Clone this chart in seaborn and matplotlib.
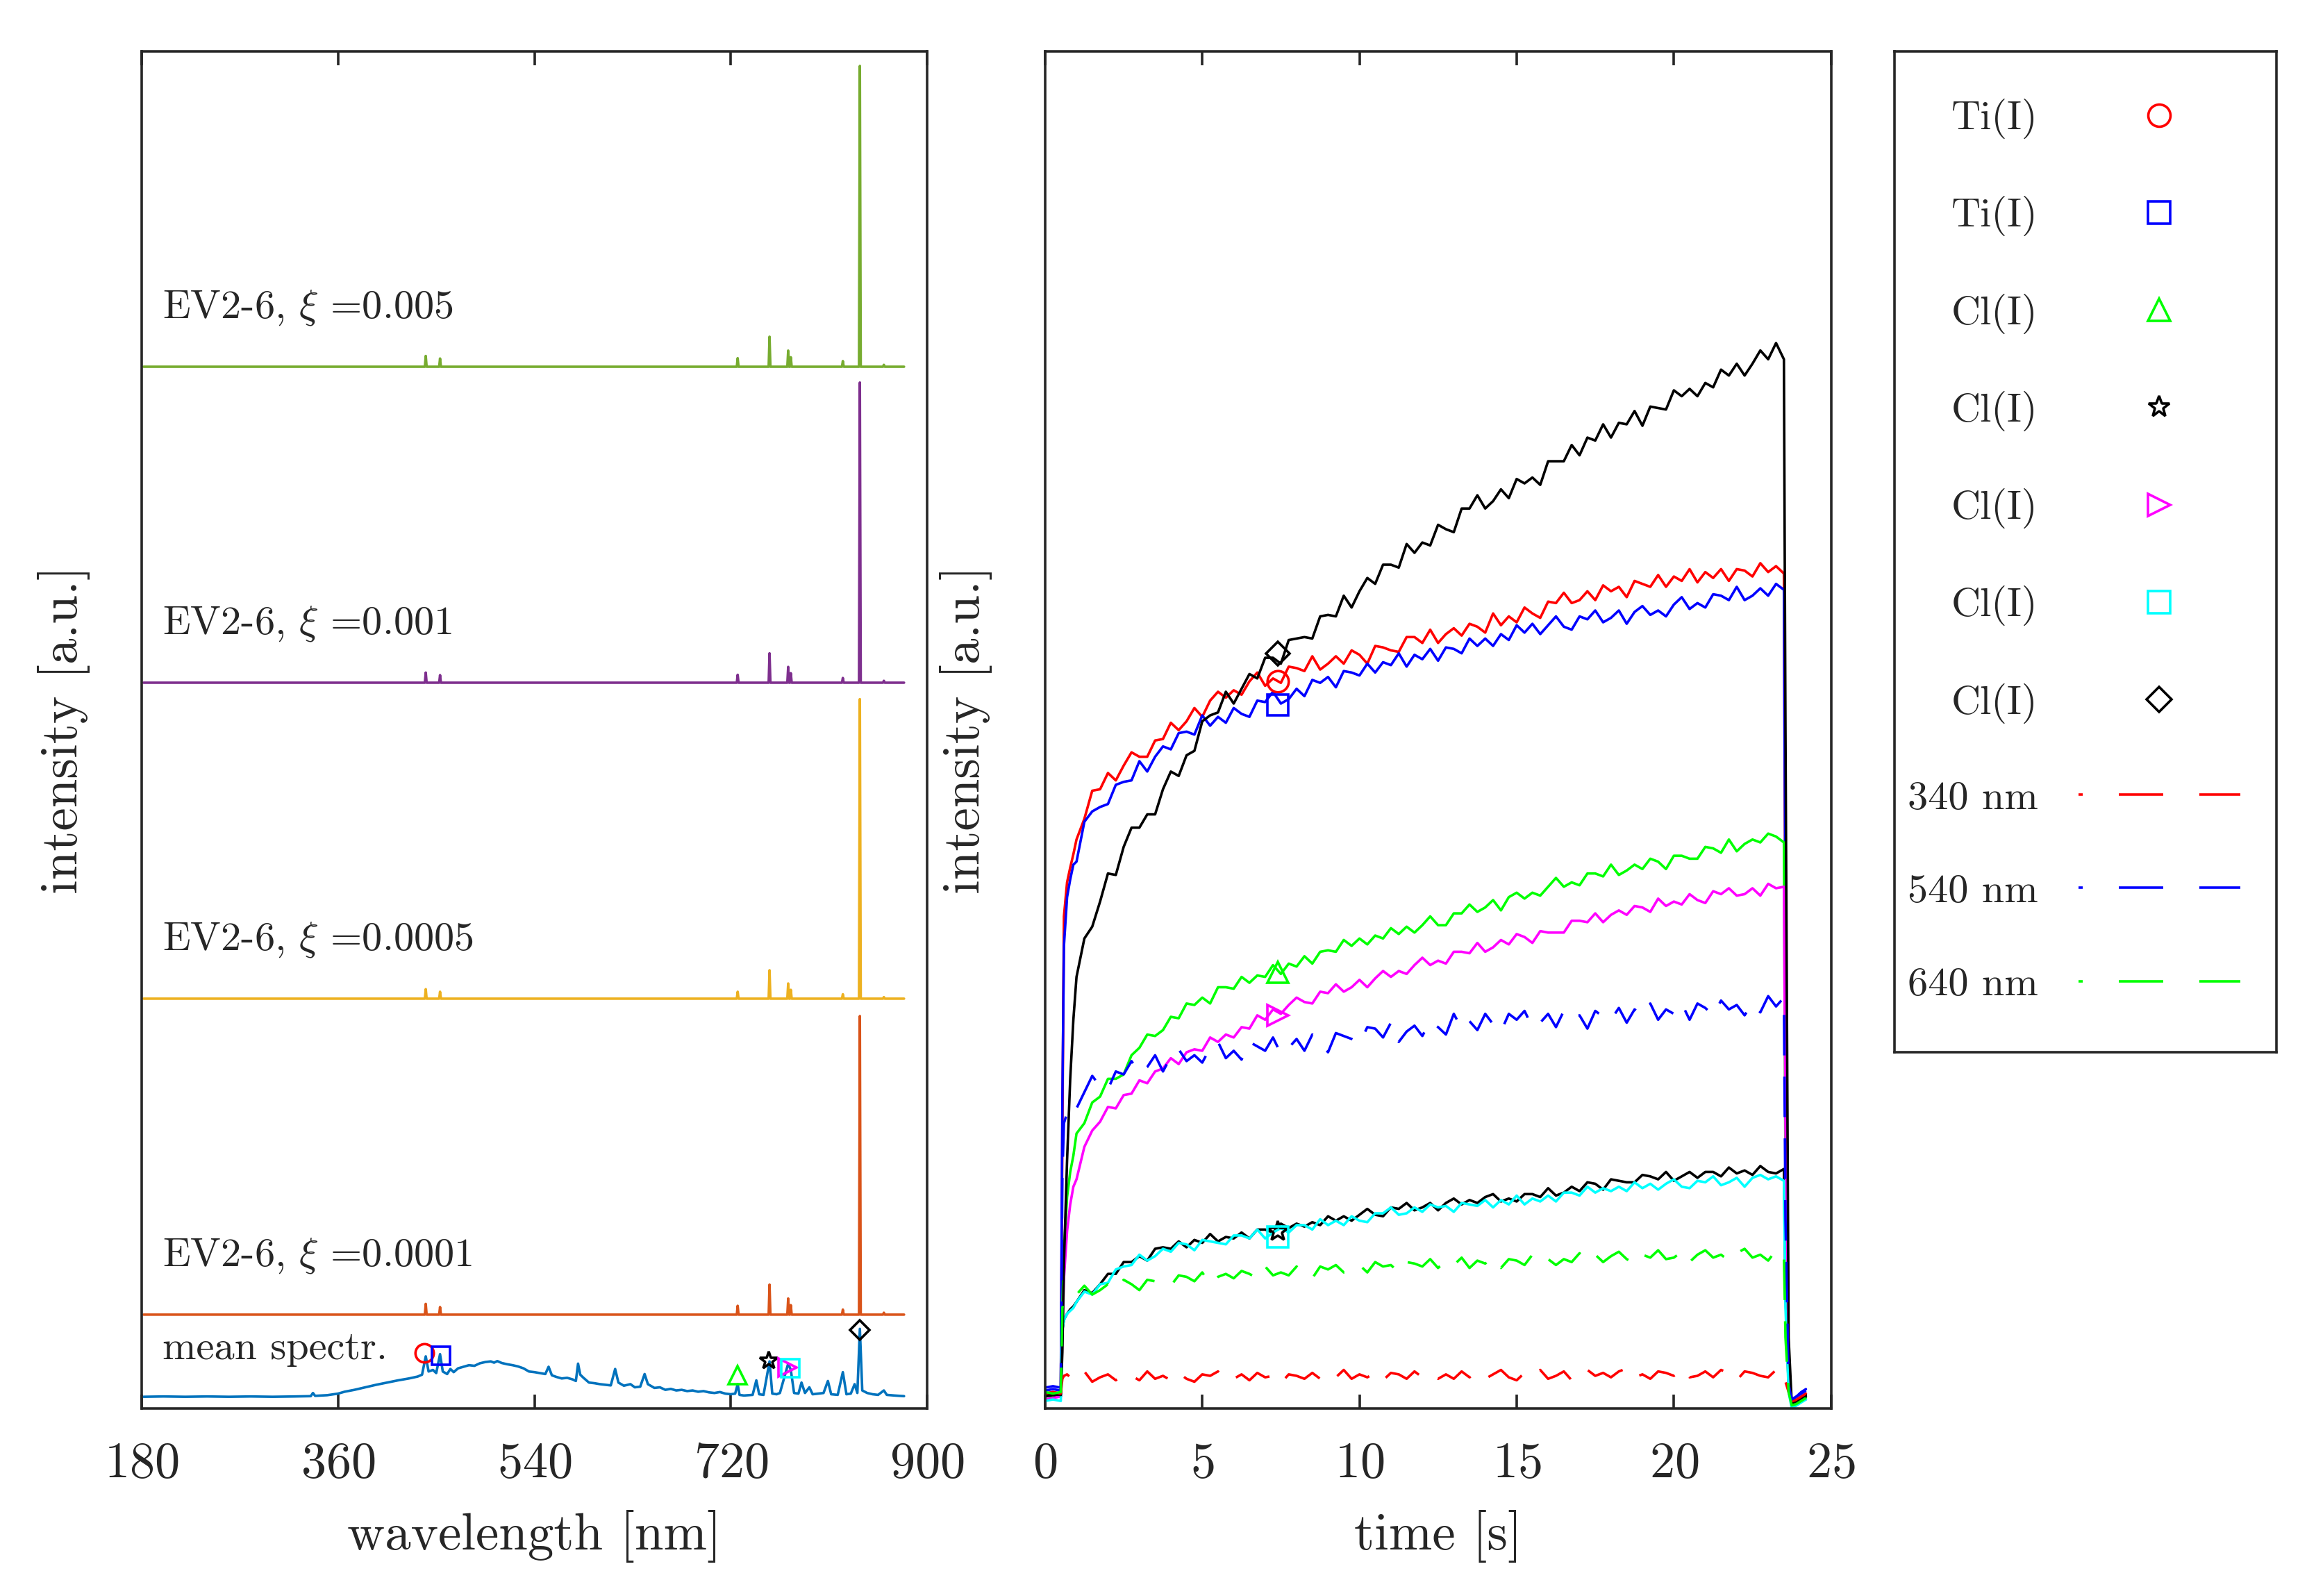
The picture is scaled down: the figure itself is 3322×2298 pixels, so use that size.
import numpy as np
import matplotlib
matplotlib.use("Agg")
import matplotlib.pyplot as plt
from matplotlib.lines import Line2D
import seaborn as sns

sns.set_style("white")
plt.rcParams['font.family'] = 'serif'
plt.rcParams['font.serif'] = ['cmr10']
plt.rcParams['mathtext.fontset'] = 'cm'
plt.rcParams['axes.formatter.use_mathtext'] = True
plt.rcParams['lines.scale_dashes'] = False

# ---------------- left panel: spectra ----------------
wl_start, wl_end = 181.7, 878.8
peak_nm = [440.4, 453.5, 726.3, 755.5, 772.6, 775.0, 822.7, 838.3, 860.3]
ev_labels = ['0.0001', '0.0005', '0.001', '0.005']
ev_offsets = [0.26, 1.26, 2.26, 3.26]
ev_h_0001 = [0.034, 0.024, 0.028, 0.095, 0.051, 0.030, 0.016, 0.945, 0.006]
ev_h_0005 = [0.030, 0.022, 0.022, 0.090, 0.048, 0.028, 0.014, 0.948, 0.005]
ev_h_001 = [0.032, 0.024, 0.025, 0.093, 0.050, 0.030, 0.015, 0.950, 0.006]
ev_h_005 = [0.034, 0.026, 0.027, 0.095, 0.051, 0.030, 0.018, 0.952, 0.006]

mean_nm = [181.7, 200, 220, 240, 260, 280, 300, 320, 335, 337, 339, 350, 360, 366, 375,
           385, 395, 405, 415, 425, 433, 437, 440.4, 443, 447, 450, 453.5, 456, 460, 463,
           466, 470, 475, 480, 485, 490, 495, 500, 503, 506, 510, 515, 520, 525, 530,
           535, 540, 545, 550, 553, 556, 560, 565, 570, 575, 578, 580, 582, 585, 590,
           595, 600, 605, 610, 614, 617, 622, 628, 632, 637, 641, 644, 650, 655, 660,
           665, 670, 675, 680, 685, 690, 695, 700, 705, 710, 715, 720, 724, 726.3, 728,
           732, 740, 743.4, 746, 750, 755.5, 758, 762, 765, 772.6, 775, 778, 782, 784.8,
           788, 792, 795, 800, 805, 809, 812, 818, 822.7, 826, 830, 833.5, 836, 838.3,
           840.5, 845, 850, 855, 860.3, 863, 870, 878.8]
mean_val = [0.000, 0.001, 0.000, 0.001, 0.000, 0.001, 0.000, 0.001, 0.002, 0.012, 0.003,
            0.005, 0.010, 0.016, 0.022, 0.030, 0.038, 0.045, 0.052, 0.058, 0.064, 0.070,
            0.128, 0.080, 0.085, 0.075, 0.135, 0.080, 0.072, 0.088, 0.078, 0.090, 0.095,
            0.100, 0.098, 0.106, 0.110, 0.112, 0.108, 0.113, 0.107, 0.103, 0.100, 0.096,
            0.090, 0.080, 0.078, 0.075, 0.072, 0.095, 0.068, 0.063, 0.058, 0.060, 0.055,
            0.050, 0.105, 0.070, 0.060, 0.045, 0.043, 0.040, 0.038, 0.036, 0.088, 0.045,
            0.035, 0.040, 0.030, 0.032, 0.072, 0.040, 0.028, 0.030, 0.022, 0.025, 0.020,
            0.022, 0.018, 0.020, 0.016, 0.018, 0.014, 0.012, 0.015, 0.010, 0.008, 0.010,
            0.040, 0.006, 0.004, 0.006, 0.052, 0.008, 0.006, 0.112, 0.010, 0.008, 0.012,
            0.105, 0.085, 0.012, 0.010, 0.045, 0.012, 0.030, 0.008, 0.010, 0.012, 0.050,
            0.008, 0.006, 0.078, 0.008, 0.010, 0.040, 0.012, 0.215, 0.020, 0.012, 0.008,
            0.006, 0.020, 0.006, 0.004, 0.002]

line_labels = ['Ti(I)', 'Ti(I)', 'Cl(I)', 'Cl(I)', 'Cl(I)', 'Cl(I)', 'Cl(I)']
line_markers = ['o', 's', '^', '*', '>', 's', 'D']
line_colors = ['#ff0000', '#0000ff', '#00ff00', '#000000', '#ff00ff', '#00ffff', '#000000']
mark_nm = [438.9, 454.5, 726.3, 754.6, 771.8, 774.5, 838.3]
mark_spec = [0.138, 0.130, 0.068, 0.114, 0.092, 0.090, 0.212]

spec_colors = ['#0072BD', '#D95319', '#EDB120', '#7E2F8E', '#77AC30']

# ---------------- right panel: time traces ----------------
t_on = [0.0, 0.25, 0.5, 0.55, 0.6, 0.7, 0.8, 0.9]
t_main = np.arange(1.0, 23.51, 0.25)
t_tail = [23.55, 23.65, 23.75, 23.9, 24.05, 24.2]
t_all = np.concatenate([t_on, t_main, t_tail])

ti_red = [2, 3, 2, 180, 325, 348, 358, 367,
          377, 391, 410, 411, 422, 417, 427, 436, 433, 433, 444, 445,
          456, 451, 457, 466, 460, 471, 477, 473, 478, 475, 484, 490,
          481, 486, 483, 494, 493, 491, 501, 492, 496, 501, 496, 505,
          502, 496, 508, 507, 505, 504, 514, 514, 510, 519, 510, 516,
          520, 515, 523, 521, 517, 530, 522, 528, 524, 534, 530, 527,
          538, 537, 544, 537, 539, 545, 539, 549, 545, 548, 541, 552,
          550, 548, 556, 548, 555, 552, 560, 551, 558, 554, 560, 552,
          560, 559, 555, 564, 558, 562, 557,
          300, 10, -4, -3, 0, 2]
ti_blue = [4, 5, 4, 200, 305, 338, 350, 360,
           362, 389, 396, 399, 401, 414, 416, 417, 430, 423, 433, 440,
           438, 449, 450, 448, 461, 454, 460, 456, 466, 462, 460, 471,
           470, 477, 469, 472, 479, 474, 485, 483, 487, 480, 491, 490,
           488, 496, 490, 497, 495, 503, 494, 502, 499, 506, 498, 507,
           506, 503, 513, 508, 513, 508, 516, 512, 522, 517, 523, 516,
           522, 528, 521, 519, 528, 526, 532, 524, 527, 532, 523, 531,
           535, 529, 532, 528, 536, 541, 533, 537, 534, 543, 542, 539,
           548, 539, 542, 547, 542, 550, 546,
           320, 12, -2, 0, 3, 5]
cl_green = [1, 0, 1, 60, 100, 135, 152, 163,
            178, 185, 199, 203, 215, 215, 218, 231, 236, 245, 244, 248,
            257, 256, 266, 265, 270, 266, 277, 277, 276, 284, 280, 285,
            284, 292, 286, 293, 291, 298, 293, 301, 302, 301, 309, 305,
            310, 306, 312, 310, 317, 313, 318, 314, 319, 325, 319, 319,
            327, 327, 333, 328, 331, 336, 329, 338, 341, 337, 341, 339,
            345, 351, 345, 348, 346, 354, 354, 352, 360, 353, 356, 360,
            357, 364, 362, 357, 366, 366, 364, 364, 372, 371, 368, 377,
            369, 374, 377, 375, 381, 379, 375,
            150, 5, -6, -5, -3, -1]
cl_star = [0, 1, 0, 45, 52, 56, 59, 61,
           64, 72, 70, 76, 83, 83, 91, 91, 95, 92, 100, 101,
           100, 105, 101, 106, 104, 110, 105, 108, 107, 111, 107, 113,
           113, 111, 117, 114, 117, 115, 118, 116, 122, 119, 122, 119,
           123, 127, 123, 122, 128, 127, 131, 126, 128, 131, 126, 131,
           134, 130, 133, 131, 135, 137, 132, 134, 132, 137, 137, 135,
           141, 136, 138, 142, 139, 145, 144, 140, 147, 146, 145, 145,
           150, 149, 147, 152, 146, 149, 152, 148, 152, 152, 149, 155,
           151, 153, 150, 156, 152, 151, 154,
           70, 5, -6, -5, -2, 0]
cl_magenta = [-2, -1, 0, 40, 80, 112, 130, 142,
              147, 169, 180, 186, 196, 195, 204, 205, 214, 212, 220, 222,
              229, 225, 233, 235, 234, 243, 240, 245, 243, 250, 249, 258,
              255, 262, 259, 265, 270, 267, 266, 274, 273, 279, 274, 277,
              282, 277, 283, 288, 284, 288, 286, 292, 297, 292, 295, 293,
              301, 301, 300, 307, 301, 304, 309, 306, 313, 311, 307, 315,
              314, 314, 314, 322, 322, 321, 327, 321, 326, 329, 326, 332,
              331, 328, 337, 332, 335, 333, 340, 336, 334, 342, 340, 344,
              339, 340, 344, 339, 347, 344, 345,
              180, 8, -5, -6, -3, -2]
cl_cyan = [-3, -2, -3, 45, 52, 56, 58, 60,
           64, 71, 69, 76, 77, 86, 88, 89, 96, 92, 95, 100,
           98, 104, 103, 99, 106, 105, 104, 103, 109, 109, 107, 113,
           107, 111, 114, 111, 116, 116, 113, 120, 116, 119, 116, 122,
           119, 118, 124, 124, 128, 123, 124, 128, 125, 130, 128, 129,
           125, 131, 130, 129, 133, 128, 133, 130, 136, 130, 134, 132,
           136, 132, 138, 138, 136, 142, 138, 141, 139, 142, 139, 145,
           141, 144, 140, 144, 147, 142, 141, 146, 145, 149, 143, 145,
           148, 142, 148, 150, 147, 149, 146,
           60, 3, -8, -6, -4, -2]
cl_black = [1, 2, 1, 30, 90, 160, 215, 255,
            284, 310, 318, 335, 354, 353, 372, 385, 385, 394, 394, 411,
            423, 420, 434, 437, 457, 461, 463, 477, 469, 479, 489, 486,
            500, 500, 496, 512, 513, 514, 513, 528, 529, 528, 542, 534,
            545, 554, 550, 563, 563, 561, 577, 571, 578, 576, 590, 587,
            585, 601, 601, 610, 601, 606, 614, 608, 621, 618, 622, 617,
            633, 633, 633, 644, 637, 649, 647, 658, 649, 659, 658, 667,
            657, 670, 669, 668, 681, 677, 682, 677, 686, 683, 695, 691,
            699, 691, 699, 708, 702, 713, 702,
            450, 40, -5, -4, -1, 1]
nm340 = [2, 3, 2, 12, 14, 15, 13, 14,
         12, 17, 10, 13, 15, 11, 15, 14, 11, 17, 12, 14,
         11, 16, 12, 10, 15, 14, 17, 11, 12, 15, 11, 16,
         13, 14, 9, 15, 14, 12, 16, 12, 16, 13, 18, 12,
         15, 13, 16, 11, 16, 15, 12, 17, 13, 15, 12, 15,
         12, 17, 13, 16, 12, 15, 18, 13, 11, 16, 14, 18,
         12, 14, 17, 11, 16, 18, 14, 16, 13, 17, 19, 13,
         15, 12, 17, 16, 14, 19, 13, 14, 17, 13, 18, 16,
         11, 17, 16, 14, 13, 18, 17,
         10, 3, -3, -2, 0, 2]
nm540 = [6, 7, 6, 150, 185, 192, 195, 198,
         195, 206, 217, 210, 208, 220, 218, 227, 219, 223, 231, 220,
         230, 235, 227, 231, 226, 236, 240, 229, 234, 228, 240, 237,
         234, 243, 232, 236, 242, 234, 245, 240, 233, 246, 244, 242,
         239, 250, 249, 243, 253, 240, 247, 251, 244, 254, 250, 245,
         259, 249, 254, 248, 259, 252, 247, 259, 255, 261, 250, 253,
         259, 250, 261, 256, 258, 249, 261, 257, 255, 263, 253, 262,
         258, 266, 255, 262, 259, 266, 255, 266, 263, 258, 268, 262,
         265, 258, 266, 260, 271, 264, 270,
         120, 8, -2, 0, 2, 4]
nm640 = [3, 2, 3, 60, 64, 66, 67, 68,
         69, 75, 69, 72, 76, 72, 79, 76, 72, 79, 78, 76,
         75, 82, 81, 78, 84, 76, 81, 83, 80, 85, 83, 80,
         88, 82, 84, 82, 88, 83, 80, 88, 86, 89, 84, 85,
         89, 84, 91, 88, 89, 84, 91, 90, 88, 93, 87, 92,
         89, 94, 87, 92, 90, 94, 87, 93, 92, 89, 96, 91,
         93, 89, 93, 91, 97, 92, 96, 91, 95, 98, 93, 90,
         96, 94, 99, 93, 94, 98, 91, 96, 99, 94, 96, 92,
         97, 100, 94, 96, 92, 99, 96,
         40, 3, -6, -5, -3, -1]

solid_series = [ti_red, ti_blue, cl_green, cl_star, cl_magenta, cl_cyan, cl_black]
dashed_series = [nm340, nm540, nm640]
dashed_labels = ['340 nm', '540 nm', '640 nm']
dashed_colors = ['#ff0000', '#0000ff', '#00ff00']
t_mark = 7.4
mark_time = [484, 468, 287, 112, 258, 108, 503]

# ---------------- figure ----------------
fig = plt.figure(figsize=(16.61, 11.49), dpi=200)
ax1 = fig.add_axes([0.0614, 0.1173, 0.3405, 0.8507])
ax2 = fig.add_axes([0.4530, 0.1173, 0.3407, 0.8507])
axl = fig.add_axes([0.8212, 0.3407, 0.1655, 0.6271])

edge = '#262626'
lw_line = 1.3

# mean spectrum
sns.lineplot(x=mean_nm, y=mean_val, ax=ax1, color=spec_colors[0], linewidth=lw_line,
             estimator=None, sort=False)
ax1.text(199, 0.15, 'mean spectr.', fontsize=21, ha='left', va='center')

for off, heights, lab, col in zip(ev_offsets, [ev_h_0001, ev_h_0005, ev_h_001, ev_h_005],
                                  ev_labels, spec_colors[1:]):
    xs, ys = [wl_start], [off]
    for nm, h in zip(peak_nm, heights):
        xs += [nm - 0.8, nm, nm + 0.8]
        ys += [off, off + h, off]
    xs.append(wl_end)
    ys.append(off)
    sns.lineplot(x=xs, y=ys, ax=ax1, color=col, linewidth=lw_line, estimator=None, sort=False)
    ax1.text(199, off + 0.187, r'EV2-6, $\xi$ =' + lab, fontsize=21, ha='left', va='center')

for nm, v, m, c in zip(mark_nm, mark_spec, line_markers, line_colors):
    ms = 7 if m == 'D' else 9.5
    ax1.plot([nm], [v], ls='none', marker=m, mfc='none', mec=c, ms=ms, mew=1.3)

ax1.set_xlim(180, 900)
ax1.set_ylim(-0.038, 4.259)
ax1.set_xticks([180, 360, 540, 720, 900])
ax1.set_yticks([])
ax1.set_xlabel('wavelength [nm]', fontsize=27, va='center')
ax1.set_ylabel('intensity [a.u.]', fontsize=27, va='center')
ax1.xaxis.set_label_coords(0.5, -0.094)
ax1.yaxis.set_label_coords(-0.099, 0.5)

# time traces
for ys, c in zip(solid_series, line_colors):
    sns.lineplot(x=t_all, y=ys, ax=ax2, color=c, linewidth=lw_line, estimator=None, sort=False)
for ys, c in zip(dashed_series, dashed_colors):
    sns.lineplot(x=t_all, y=ys, ax=ax2, color=c, linewidth=lw_line, estimator=None, sort=False,
                 linestyle=(0, (21, 11)))
for v, m, c in zip(mark_time, line_markers, line_colors):
    ms = 8.5 if m == 'D' else 11
    ax2.plot([t_mark], [v], ls='none', marker=m, mfc='none', mec=c, ms=ms, mew=1.3)

ax2.set_xlim(0, 25)
ax2.set_ylim(-8.3, 910.6)
ax2.set_xticks([0, 5, 10, 15, 20, 25])
ax2.set_yticks([])
ax2.set_xlabel('time [s]', fontsize=27, va='center')
ax2.set_ylabel('intensity [a.u.]', fontsize=27, va='center')
ax2.xaxis.set_label_coords(0.5, -0.094)
ax2.yaxis.set_label_coords(-0.101, 0.5)

for ax in (ax1, ax2, axl):
    for sp in ax.spines.values():
        sp.set_visible(True)
        sp.set_color(edge)
        sp.set_linewidth(1.3)
for ax in (ax1, ax2):
    ax.tick_params(axis='x', direction='in', length=7.2, width=1.3, top=True, bottom=True,
                   labelsize=26, pad=17, color=edge, labelcolor=edge)
    ax.grid(False)
axl.set_xticks([])
axl.set_yticks([])

# legend
handles = []
for m, c in zip(line_markers, line_colors):
    ms = 9 if m == 'D' else 11.5
    handles.append(Line2D([], [], ls='none', marker=m, mfc='none', mec=c, ms=ms, mew=1.3))
for c in dashed_colors:
    handles.append(Line2D([], [], color=c, lw=lw_line, ls=(20.8, (23, 18.7))))
labels = line_labels + dashed_labels
fig.legend(handles, labels, loc='upper right', bbox_to_anchor=(3226 / 3322, 1 - 142 / 2298),
           bbox_transform=fig.transFigure, frameon=False, markerfirst=False, borderpad=0,
           borderaxespad=0, handlelength=4.0, handletextpad=1.0, labelspacing=1.41, fontsize=21)

fig.savefig('out.png', dpi=200)
